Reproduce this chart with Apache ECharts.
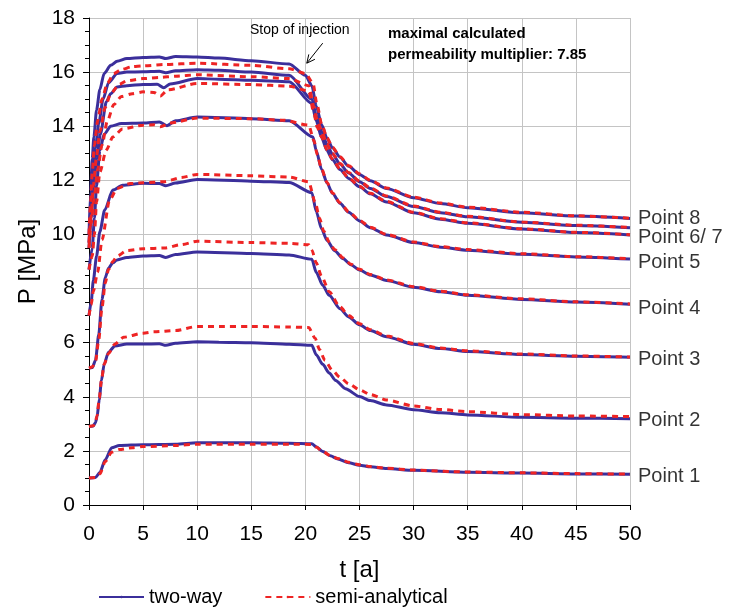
<!DOCTYPE html>
<html>
<head>
<meta charset="utf-8">
<style>html,body{margin:0;padding:0;background:#fff;}#c{width:731px;height:612px;}</style>
<script src="https://cdn.jsdelivr.net/npm/echarts@6/dist/echarts.min.js"></script>
</head>
<body>
<div id="c"></div>
<script>
// ---- data: [t (years), P (MPa)] ----
const twoWay1 = [[0,1.0],[0.6,1.02],[1.0,1.2],[1.5,1.67],[2.1,2.12],[2.8,2.2],[5,2.23],[8,2.25],[10,2.3],[15,2.3],[18.5,2.28],[20.6,2.26],[21.0,2.15],[21.6,1.98],[22.3,1.82],[23,1.7],[24,1.56],[25,1.47],[26,1.41],[27.5,1.35],[30,1.28],[35,1.21],[40,1.18],[45,1.15],[50,1.14]];
const semi1 = [[0,1.0],[0.6,1.02],[1.0,1.15],[1.5,1.6],[2.1,1.95],[2.8,2.05],[4,2.12],[5,2.16],[8,2.2],[10,2.25],[15,2.25],[18.5,2.25],[20.6,2.24],[21.0,2.14],[21.6,1.98],[22.3,1.83],[23,1.72],[24,1.58],[25,1.49],[26,1.42],[27.5,1.36],[30,1.29],[35,1.22],[40,1.19],[45,1.16],[50,1.14]];

const twoWay2 = [[0,2.9],[0.4,2.92],[0.6,3.05],[0.75,3.27],[0.95,3.9],[1.15,4.6],[1.4,5.2],[1.8,5.65],[2.4,5.88],[3.5,5.95],[5,5.95],[6.5,5.96],[7.1,5.9],[8,5.98],[10,6.03],[12,6.02],[15,6.0],[18.5,5.94],[20.6,5.9],[21.0,5.55],[21.6,5.2],[22.2,4.88],[22.8,4.6],[23.7,4.3],[25,4.01],[26,3.86],[27.5,3.7],[30,3.52],[32.5,3.41],[35,3.33],[40,3.24],[45,3.21],[50,3.19]];
const semi2 = [[0,2.9],[0.4,2.93],[0.6,3.1],[0.75,3.3],[0.95,3.95],[1.15,4.6],[1.4,5.2],[1.8,5.6],[2.4,5.95],[3.2,6.2],[5,6.35],[6,6.4],[8,6.45],[10,6.6],[12,6.6],[15,6.6],[18.5,6.58],[20.3,6.56],[20.9,6.16],[21.3,5.75],[21.8,5.35],[22.5,4.97],[23.2,4.72],[24,4.48],[25,4.26],[26,4.08],[27.5,3.88],[30,3.66],[32.5,3.53],[35,3.45],[40,3.34],[45,3.29],[50,3.27]];

const twoWay3 = [[0,5.06],[0.3,5.08],[0.6,5.35],[0.9,6.3],[1.2,7.6],[1.5,8.4],[1.8,8.75],[2.2,8.95],[2.6,9.06],[3.5,9.15],[5,9.2],[6.5,9.22],[7.1,9.15],[8,9.26],[10,9.35],[15,9.3],[18.5,9.24],[20.6,9.08],[21.0,8.6],[21.6,8.12],[22.2,7.75],[23.2,7.25],[24,6.95],[25,6.66],[26,6.45],[27.5,6.22],[30,5.94],[32.5,5.78],[35,5.67],[40,5.56],[45,5.5],[50,5.46]];
const semi3 = [[0,5.06],[0.3,5.1],[0.6,5.3],[0.9,6.1],[1.2,7.3],[1.5,8.2],[1.8,8.7],[2.2,9.0],[2.6,9.2],[3.5,9.4],[5,9.47],[7,9.5],[8.5,9.62],[10,9.75],[15,9.7],[18.5,9.67],[20.3,9.62],[20.6,9.42],[21.0,8.95],[21.5,8.45],[22.2,7.88],[23.2,7.32],[24,7.0],[25,6.7],[26,6.48],[27.5,6.25],[30,5.97],[32.5,5.8],[35,5.7],[40,5.58],[45,5.51],[50,5.47]];

const twoWay4 = [[0,7.0],[0.2,7.5],[0.4,8.3],[0.7,9.2],[1.0,10.1],[1.45,10.9],[2.2,11.64],[3.1,11.82],[5,11.89],[6.5,11.88],[7.1,11.8],[8,11.9],[10,12.03],[15,11.97],[18.5,11.92],[20.6,11.54],[21.0,10.85],[21.5,10.2],[22.0,9.78],[22.7,9.4],[23.5,9.1],[24.2,8.88],[25,8.69],[26,8.5],[27.5,8.3],[30,8.05],[32.5,7.88],[35,7.75],[40,7.6],[45,7.5],[50,7.42]];
const semi4 = [[0,7.0],[0.2,7.4],[0.4,7.9],[0.8,8.6],[1.2,9.8],[1.9,11.27],[2.6,11.7],[3.8,11.88],[5,11.91],[7,11.95],[8.5,12.1],[10,12.22],[15,12.17],[18.5,12.12],[20.3,11.95],[20.9,11.2],[21.3,10.6],[21.7,10.12],[22.2,9.72],[22.7,9.44],[23.5,9.13],[24.2,8.9],[25,8.71],[26,8.52],[27.5,8.32],[30,8.07],[32.5,7.9],[35,7.77],[40,7.62],[45,7.51],[50,7.43]];

const twoWay5 = [[0,8.7],[0.3,9.5],[0.5,10.6],[0.7,11.8],[1.0,13.1],[1.4,13.7],[2.0,14.0],[3.0,14.1],[5,14.12],[6.5,14.16],[7.2,14.02],[8,14.2],[10,14.34],[15,14.28],[18.5,14.2],[20.7,13.6],[21.0,13.1],[21.5,12.4],[22.0,11.9],[22.5,11.52],[23.2,11.15],[24,10.82],[25,10.5],[26,10.25],[27.5,9.98],[30,9.7],[32.5,9.53],[35,9.42],[40,9.27],[45,9.17],[50,9.09]];
const semi5 = [[0,8.7],[0.3,9.2],[0.5,10.0],[0.7,11.2],[1.0,12.3],[1.6,13.12],[2.2,13.6],[3.1,13.9],[5,14.04],[6.0,14.05],[6.6,13.98],[7.5,14.12],[10,14.3],[15,14.28],[18.0,14.22],[20.3,14.04],[20.8,13.45],[21.1,12.95],[21.5,12.42],[22.0,11.92],[22.5,11.54],[23.2,11.17],[24,10.84],[25,10.52],[26,10.27],[27.5,10.0],[30,9.72],[32.5,9.55],[35,9.44],[40,9.29],[45,9.18],[50,9.1]];

const twoWay6 = [[0,9.5],[0.2,10.6],[0.4,11.6],[0.7,12.8],[1.05,13.7],[1.6,14.9],[2.0,15.2],[2.6,15.45],[3.5,15.5],[5,15.54],[6.3,15.55],[6.9,15.42],[7.5,15.56],[10,15.76],[12,15.74],[15,15.7],[18.5,15.64],[20.6,14.84],[21.0,14.2],[21.5,13.58],[22.0,13.1],[22.5,12.76],[23.2,12.4],[24,12.07],[25,11.76],[26,11.5],[27.5,11.2],[30,10.8],[32.5,10.56],[35,10.41],[40,10.2],[45,10.07],[50,9.98]];
const semi6 = [[0,9.5],[0.2,10.4],[0.45,11.3],[0.8,12.4],[1.2,13.3],[1.7,14.2],[2.3,14.8],[3.0,15.1],[4.0,15.2],[5,15.27],[6.0,15.25],[6.6,15.12],[7.3,15.35],[10,15.58],[15,15.54],[18.5,15.48],[20.3,15.3],[20.8,14.45],[21.1,13.95],[21.5,13.6],[22.0,13.12],[22.5,12.78],[23.2,12.42],[24,12.09],[25,11.78],[26,11.52],[27.5,11.22],[30,10.82],[32.5,10.58],[35,10.43],[40,10.21],[45,10.08],[50,9.99]];

const twoWay7 = [[0,9.7],[0.2,11.0],[0.4,12.3],[0.6,13.2],[0.9,14.1],[1.3,15.0],[1.8,15.6],[2.6,15.95],[3.5,16.0],[5,16.01],[6.5,16.03],[7.1,15.98],[8,16.05],[10,16.09],[12,16.07],[15,16.0],[18.5,15.88],[20.6,15.0],[21.0,14.4],[21.5,13.8],[22.0,13.32],[22.5,12.97],[23.2,12.6],[24,12.27],[25,11.95],[26,11.7],[27.5,11.4],[30,11.03],[32.5,10.8],[35,10.65],[40,10.45],[45,10.33],[50,10.25]];
const semi7 = [[0,9.7],[0.2,10.7],[0.4,11.8],[0.7,12.9],[1.0,13.8],[1.5,14.7],[2.0,15.2],[2.8,15.55],[3.5,15.68],[5,15.76],[6.5,15.8],[8,15.85],[10,15.9],[15,15.83],[18.5,15.76],[20.3,15.5],[20.8,14.7],[21.1,14.2],[21.5,13.82],[22.0,13.34],[22.5,12.99],[23.2,12.62],[24,12.29],[25,11.97],[26,11.72],[27.5,11.42],[30,11.05],[32.5,10.82],[35,10.67],[40,10.46],[45,10.34],[50,10.26]];

const twoWay8 = [[0,10.0],[0.15,11.6],[0.3,12.8],[0.45,13.6],[0.7,14.6],[1.0,15.35],[1.4,15.95],[2.0,16.25],[2.6,16.4],[3.5,16.5],[5,16.54],[6.5,16.56],[7.1,16.5],[8,16.58],[10,16.56],[12,16.52],[15,16.42],[18.5,16.3],[20.0,15.88],[20.6,15.5],[21.0,14.75],[21.5,14.05],[22.0,13.55],[22.5,13.2],[23.2,12.85],[24,12.52],[25,12.22],[26,11.98],[27.5,11.7],[30,11.36],[32.5,11.14],[35,10.99],[40,10.8],[45,10.68],[50,10.59]];
const semi8 = [[0,10.0],[0.15,11.2],[0.3,12.3],[0.5,13.3],[0.8,14.2],[1.2,15.0],[1.7,15.6],[2.3,15.95],[3.0,16.1],[4,16.2],[5,16.23],[7,16.28],[10,16.33],[15,16.25],[18.5,16.12],[20.0,15.95],[20.7,15.6],[21.05,14.85],[21.5,14.08],[22.0,13.57],[22.5,13.22],[23.2,12.87],[24,12.54],[25,12.24],[26,12.0],[27.5,11.72],[30,11.38],[32.5,11.16],[35,11.01],[40,10.82],[45,10.69],[50,10.6]];

const pointLabels = [[50,10.6,'Point 8'],[50,9.9,'Point 6/ 7'],[50,8.98,'Point 5'],[50,7.28,'Point 4'],[50,5.37,'Point 3'],[50,3.11,'Point 2'],[50,1.05,'Point 1']];
const xTicks = [0,5,10,15,20,25,30,35,40,45,50];
const yTicks = [0,2,4,6,8,10,12,14,16,18];
const arrowTail = [21.6,17.07];
const arrowHead = [20.13,16.33];

const FONT = "'Liberation Sans', Arial, sans-serif";
const BLUE = '#3b2f9b';
const RED = '#ee2424';

const chart = echarts.init(document.getElementById('c'), null, {renderer:'canvas'});
const twoWayAll = [twoWay1,twoWay2,twoWay3,twoWay4,twoWay5,twoWay6,twoWay7,twoWay8];
const semiAll = [semi1,semi2,semi3,semi4,semi5,semi6,semi7,semi8];
const series = [];
twoWayAll.forEach(d => series.push({
  name:'two-way', type:'line', data:d, symbol:'circle', symbolSize:0, showSymbol:false,
  smooth:0.25, smoothMonotone:'x',
  lineStyle:{color:BLUE, width:3}, itemStyle:{color:BLUE}, z:2, silent:true
}));
semiAll.forEach(d => series.push({
  name:'semi-analytical', type:'line', data:d, symbol:'circle', symbolSize:0, showSymbol:false,
  smooth:0.25, smoothMonotone:'x',
  lineStyle:{color:RED, width:3, type:[6,5]}, itemStyle:{color:RED}, z:3, silent:true
}));
series.push({
  name:'labels', type:'scatter', data:pointLabels, symbolSize:0, silent:true,
  label:{show:true, position:'right', distance:8, formatter:p=>p.data[2],
    color:'#000', fontSize:20, fontFamily:FONT}
});

chart.setOption({
  animation:false,
  backgroundColor:'#fff',
  grid:{left:89, top:18, width:541, height:487},
  legend:{
    data:['two-way','semi-analytical'], left:93, top:582, itemWidth:45, itemHeight:3, itemGap:42,
    textStyle:{fontSize:20, fontFamily:FONT, color:'#000'}
  },
  xAxis:{
    type:'value', min:0, max:50, interval:5,
    name:'t [a]', nameLocation:'middle', nameGap:53,
    nameTextStyle:{fontSize:24, fontFamily:FONT, color:'#000'},
    axisLine:{show:true, onZero:false, lineStyle:{color:'#000', width:1}},
    axisTick:{show:true, length:5, lineStyle:{color:'#000'}},
    axisLabel:{fontSize:21, fontFamily:FONT, color:'#000', margin:19},
    splitLine:{show:true, lineStyle:{color:'#c4c4c4', width:1}}
  },
  yAxis:{
    type:'value', min:0, max:18, interval:2,
    name:'P [MPa]', nameLocation:'middle', nameGap:47,
    nameTextStyle:{fontSize:24, fontFamily:FONT, color:'#000'},
    axisLine:{show:true, onZero:false, lineStyle:{color:'#000', width:1}},
    axisTick:{show:true, length:6, lineStyle:{color:'#000'}},
    minorTick:{show:true, splitNumber:4, length:4, lineStyle:{color:'#000'}},
    axisLabel:{fontSize:21, fontFamily:FONT, color:'#000', margin:14},
    splitLine:{show:true, lineStyle:{color:'#c4c4c4', width:1}}
  },
  series: series
});

const tail = chart.convertToPixel({gridIndex:0}, arrowTail);
const head = chart.convertToPixel({gridIndex:0}, arrowHead);
const ang = Math.atan2(tail[1]-head[1], tail[0]-head[0]);
const hl = 9, spread = 0.45;
const h1 = [head[0]+hl*Math.cos(ang+spread), head[1]+hl*Math.sin(ang+spread)];
const h2 = [head[0]+hl*Math.cos(ang-spread), head[1]+hl*Math.sin(ang-spread)];

chart.setOption({
  graphic:[
    {type:'line', shape:{x1:tail[0], y1:tail[1], x2:head[0], y2:head[1]}, style:{stroke:'#000', lineWidth:1}, z:10},
    {type:'polyline', shape:{points:[h1, head, h2]}, style:{stroke:'#000', lineWidth:1, fill:null}, z:10},
    {type:'text', x:250, y:30, style:{text:'Stop of injection', fontSize:14, fontFamily:FONT, fill:'#000', verticalAlign:'middle', align:'left'}, z:10},
    {type:'text', x:388, y:34, style:{text:'maximal calculated', fontSize:15, fontWeight:'bold', fontFamily:FONT, fill:'#000', verticalAlign:'middle', align:'left'}, z:10},
    {type:'text', x:388, y:55, style:{text:'permeability multiplier: 7.85', fontSize:15, fontWeight:'bold', fontFamily:FONT, fill:'#000', verticalAlign:'middle', align:'left'}, z:10}
  ]
});
</script>
</body>
</html>
